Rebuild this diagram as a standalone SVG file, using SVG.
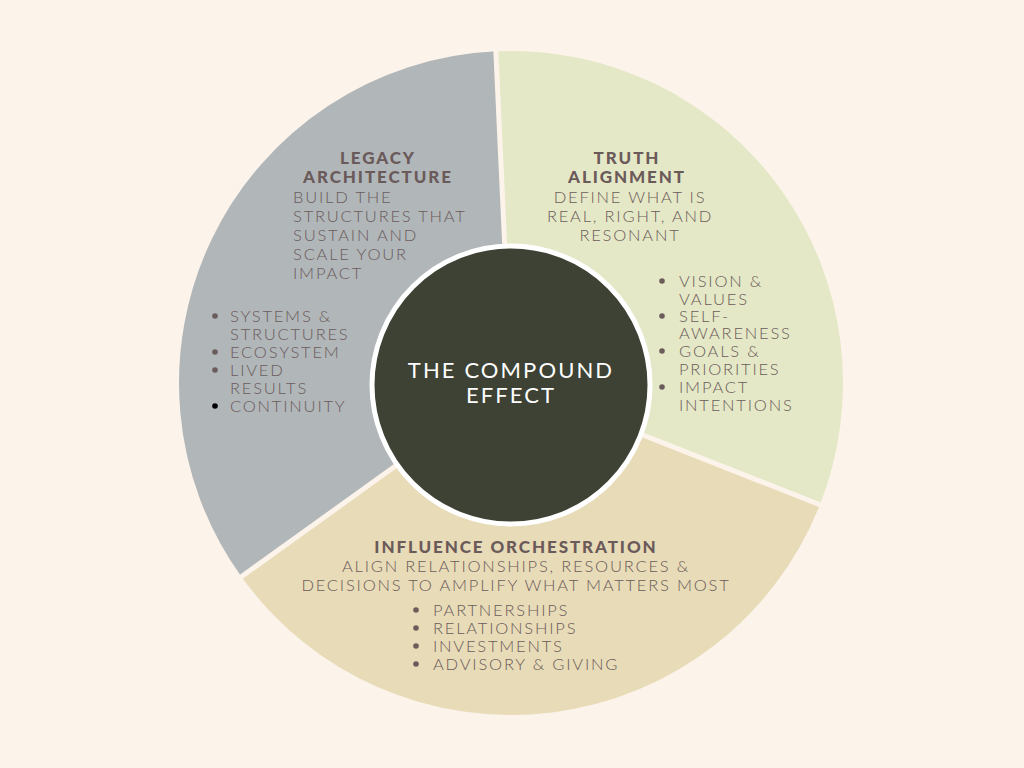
<svg xmlns="http://www.w3.org/2000/svg" width="1024" height="768" viewBox="0 0 1024 768">
<style>
.title{font-family:"Lato","Liberation Sans",sans-serif;font-weight:900;font-size:17px;letter-spacing:1.9px;fill:#6b5a5a}
.body{font-family:"Lato","Liberation Sans",sans-serif;font-weight:300;font-size:16.5px;letter-spacing:1.8px;fill:#6b5c5c}
.center{font-family:"Lato","Liberation Sans",sans-serif;font-weight:400;font-size:22px;letter-spacing:2.1px;fill:#ffffff}
.dot{fill:#6b5c5c}
.gap{stroke:#fcf3ea;stroke-width:5;fill:none}
</style>
<rect width="1024" height="768" fill="#fcf3ea"/>
<g id="truth-alignment">
<path d="M511,383 L495.9,51.3 A332,332 0 0 1 819.9,504.7 Z" fill="#e5e8c6"/>
<text class="title" text-anchor="middle" x="627" y="164">TRUTH</text>
<text class="title" text-anchor="middle" x="627" y="183">ALIGNMENT</text>
<text class="body" text-anchor="middle" x="630" y="203">DEFINE WHAT IS</text>
<text class="body" text-anchor="middle" x="630" y="222">REAL, RIGHT, AND</text>
<text class="body" text-anchor="middle" x="630" y="241">RESONANT</text>
<circle class="dot" cx="662" cy="281" r="2.8"/>
<circle class="dot" cx="662" cy="316" r="2.8"/>
<circle class="dot" cx="662" cy="351" r="2.8"/>
<circle class="dot" cx="662" cy="387" r="2.8"/>
<text class="body" x="679" y="287">VISION &amp;</text>
<text class="body" x="679" y="305">VALUES</text>
<text class="body" x="679" y="322">SELF-</text>
<text class="body" x="679" y="339">AWARENESS</text>
<text class="body" x="679" y="357">GOALS &amp;</text>
<text class="body" x="679" y="375">PRIORITIES</text>
<text class="body" x="679" y="393">IMPACT</text>
<text class="body" x="679" y="411">INTENTIONS</text>
</g>
<g id="influence-orchestration">
<path d="M511,383 L819.9,504.7 A332,332 0 0 1 241.4,576.7 Z" fill="#e8dbb7"/>
<text class="title" text-anchor="middle" x="516" y="553">INFLUENCE ORCHESTRATION</text>
<text class="body" text-anchor="middle" x="516" y="572">ALIGN RELATIONSHIPS, RESOURCES &amp;</text>
<text class="body" text-anchor="middle" x="516" y="591">DECISIONS TO AMPLIFY WHAT MATTERS MOST</text>
<circle class="dot" cx="416" cy="610" r="2.8"/>
<circle class="dot" cx="416" cy="628" r="2.8"/>
<circle class="dot" cx="416" cy="646" r="2.8"/>
<circle class="dot" cx="416" cy="664" r="2.8"/>
<text class="body" x="433" y="616">PARTNERSHIPS</text>
<text class="body" x="433" y="634">RELATIONSHIPS</text>
<text class="body" x="433" y="652">INVESTMENTS</text>
<text class="body" x="433" y="670">ADVISORY &amp; GIVING</text>
</g>
<g id="legacy-architecture">
<path d="M511,383 L241.4,576.7 A332,332 0 0 1 495.9,51.3 Z" fill="#b1b6b9"/>
<text class="title" text-anchor="middle" x="378" y="164">LEGACY</text>
<text class="title" text-anchor="middle" x="378" y="183">ARCHITECTURE</text>
<text class="body" x="293" y="203">BUILD THE</text>
<text class="body" x="293" y="222">STRUCTURES THAT</text>
<text class="body" x="293" y="241">SUSTAIN AND</text>
<text class="body" x="293" y="260">SCALE YOUR</text>
<text class="body" x="293" y="279">IMPACT</text>
<circle class="dot" cx="215" cy="316" r="2.8"/>
<circle class="dot" cx="215" cy="352" r="2.8"/>
<circle class="dot" cx="215" cy="370" r="2.8"/>
<circle cx="215" cy="406" r="2.8" fill="#000000"/>
<text class="body" x="230" y="322">SYSTEMS &amp;</text>
<text class="body" x="230" y="340">STRUCTURES</text>
<text class="body" x="230" y="358">ECOSYSTEM</text>
<text class="body" x="230" y="376">LIVED</text>
<text class="body" x="230" y="394">RESULTS</text>
<text class="body" x="230" y="412">CONTINUITY</text>
</g>
<g id="connectors">
<line class="gap" x1="511" y1="383" x2="495.4" y2="41.3"/>
<line class="gap" x1="511" y1="383" x2="829.2" y2="508.4"/>
<line class="gap" x1="511" y1="383" x2="233.3" y2="582.5"/>
</g>
<g id="the-compound-effect">
<circle cx="511" cy="385" r="139" fill="#3d4234" stroke="#ffffff" stroke-width="5"/>
<text class="center" text-anchor="middle" x="511" y="378">THE COMPOUND</text>
<text class="center" text-anchor="middle" x="511" y="403">EFFECT</text>
</g>
</svg>
